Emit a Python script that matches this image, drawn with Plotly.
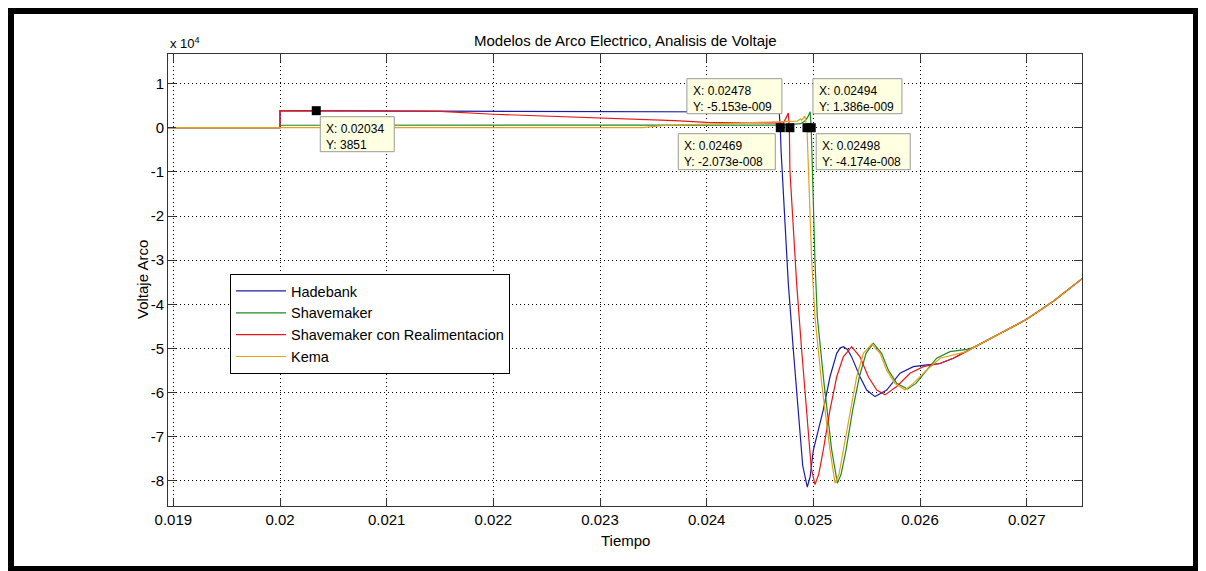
import plotly.graph_objects as go

# ---------------- data (time in s, voltage in V) ----------------
hadebank_t = [0.01895, 0.02, 0.02, 0.0215, 0.0225, 0.0236, 0.0240, 0.02466, 0.02468, 0.02469,
              0.024697, 0.024734, 0.024765, 0.024812, 0.024859, 0.0249, 0.024943, 0.02497, 0.025,
              0.025093, 0.025156, 0.025219, 0.02525, 0.025281, 0.02532, 0.025359, 0.025437, 0.0255,
              0.025578, 0.025688, 0.025812, 0.025937, 0.026062, 0.026187, 0.026312, 0.026437,
              0.0265, 0.02675, 0.027, 0.02725, 0.02752]
hadebank_v = [0, 0, 3850, 3800, 3750, 3650, 3600, 3550, 3500, 0,
              -5050, -20150, -35200, -50300, -65400, -76500, -81400, -79000, -73000,
              -63900, -56400, -51100, -49900, -49600, -50200, -51900, -56400, -59400,
              -60900, -59400, -55600, -54100, -53700, -53400, -52200, -50700,
              -49800, -46600, -43400, -39300, -34200]

shavemaker_t = [0.01895, 0.02, 0.02, 0.0230, 0.0247, 0.02488, 0.02492, 0.02495, 0.02497, 0.02498,
                0.02499, 0.025015, 0.025037, 0.0251, 0.025172, 0.025225, 0.02526, 0.025306,
                0.025369, 0.025431, 0.025494, 0.025562, 0.02564, 0.025703, 0.025781, 0.025881,
                0.025962, 0.026062, 0.026156, 0.026281, 0.026437, 0.0265, 0.02675, 0.027,
                0.02725, 0.02752]
shavemaker_v = [0, 0, 550, 550, 600, 900, 1500, 2500, 3600, 0,
                -9600, -30000, -42800, -57900, -73000, -80500, -78500, -73000,
                -63900, -56400, -51100, -48800, -51100, -54900, -57900, -59200,
                -57900, -54900, -52200, -50700, -50200, -49800, -46600, -43400,
                -39300, -34200]

realim_t = [0.01895, 0.02, 0.02, 0.02145, 0.0215, 0.0220, 0.0225, 0.0229, 0.0233, 0.0237, 0.0240,
            0.0244, 0.02472, 0.024765, 0.024775, 0.02478, 0.024806, 0.024843, 0.02489, 0.024937,
            0.02498, 0.025015, 0.02505, 0.025093, 0.025156, 0.025219, 0.025281, 0.025359,
            0.025437, 0.025515, 0.025594, 0.025672, 0.025781, 0.025906, 0.026031, 0.026187,
            0.026312, 0.026437, 0.0265, 0.02675, 0.027, 0.02725, 0.02752]
realim_v = [0, 0, 3851, 3851, 3700, 3050, 2650, 2300, 1950, 1600, 1200,
            1100, 1050, 3300, 0, -9600, -20150, -35200, -50300, -65400,
            -77000, -80800, -78500, -73000, -63900, -56400, -51900, -49600,
            -51900, -56400, -59400, -60500, -58600, -55600, -54100, -53400,
            -52200, -50700, -49800, -46600, -43400, -39300, -34200]

kema_t = [0.01895, 0.0234, 0.0236, 0.0240, 0.0245, 0.02485, 0.02488, 0.02489, 0.02492, 0.02494,
          0.024955, 0.024984, 0.025015, 0.025078, 0.025156, 0.025203, 0.02524, 0.025281,
          0.025343, 0.025406, 0.025469, 0.025547, 0.025625, 0.025687, 0.025765, 0.025859,
          0.025937, 0.026062, 0.026187, 0.026312, 0.026437, 0.0265, 0.02675, 0.027,
          0.02725, 0.02752]
kema_v = [0, 0, 500, 800, 1100, 1500, 2000, 1700, 2600, 0,
          -10000, -30000, -42800, -57900, -73000, -80500, -78500, -73000,
          -63900, -56400, -51100, -49000, -51100, -54900, -57900, -59400,
          -57900, -54900, -52200, -51500, -50700, -49800, -46600, -43400,
          -39300, -34200]

series_names = ["Hadebank", "Shavemaker", "Shavemaker con Realimentacion", "Kema"]

# data tips
tip_x = [0.02034, 0.02478, 0.02494, 0.02469, 0.02498]
tip_y = [3851, -5.153e-09, 1.386e-09, -2.073e-08, -4.174e-08]
tip_xlabel = ["0.02034", "0.02478", "0.02494", "0.02469", "0.02498"]
tip_ylabel = ["3851", "-5.153e-009", "1.386e-009", "-2.073e-008", "-4.174e-008"]

x_ticks = [0.019, 0.020, 0.021, 0.022, 0.023, 0.024, 0.025, 0.026, 0.027]
x_ticklabels = ["0.019", "0.02", "0.021", "0.022", "0.023", "0.024", "0.025", "0.026", "0.027"]
y_ticks = [-80000, -70000, -60000, -50000, -40000, -30000, -20000, -10000, 0, 10000]
y_ticklabels = ["-8", "-7", "-6", "-5", "-4", "-3", "-2", "-1", "0", "1"]

# ---------------- layout geometry ----------------
# the page body has an 8px default margin, so the figure is shifted by OFF
OFF = 8
W, H = 1206 - OFF, 571 - OFF
ML, MT = 168 - OFF, 54 - OFF
PW, PH = 914, 452
MR = W - ML - PW
MB = H - MT - PH


def px_x(p):
    """absolute screen pixel x -> paper x"""
    return (p - OFF - ML) / PW


def px_y(p):
    """absolute screen pixel y -> paper y"""
    return (H - MB - (p - OFF)) / PH


FONT = "Arial, 'Liberation Sans', sans-serif"
colors = ["#1c1ca8", "#1f8a1f", "#e81818", "#e6a019"]

fig = go.Figure()
for name, t, v, c in zip(series_names,
                         [hadebank_t, shavemaker_t, realim_t, kema_t],
                         [hadebank_v, shavemaker_v, realim_v, kema_v],
                         colors):
    fig.add_trace(go.Scatter(x=t, y=v, mode="lines", name=name,
                             line=dict(color=c, width=1.2)))

fig.add_trace(go.Scatter(x=tip_x, y=tip_y, mode="markers", showlegend=False,
                         marker=dict(symbol="square", size=9, color="black")))

grid_dash = "1px,3px"
axis_common = dict(showgrid=True, gridcolor="black", gridwidth=1, griddash=grid_dash,
                   zeroline=False, showline=True, linecolor="#333333", linewidth=1,
                   mirror="ticks", ticks="inside", ticklen=8, tickcolor="#333333",
                   tickfont=dict(size=15, color="black"))
fig.update_layout(
    width=W, height=H,
    margin=dict(l=ML, r=MR, t=MT, b=MB, pad=0),
    paper_bgcolor="white", plot_bgcolor="white",
    font=dict(family=FONT, size=15, color="black"),
    showlegend=True,
    legend=dict(x=px_x(230), y=px_y(274), xanchor="left", yanchor="top",
                bgcolor="white", bordercolor="black", borderwidth=1,
                font=dict(size=14.5, color="black"), itemwidth=50,
                tracegroupgap=0),
    xaxis=dict(range=[0.01895, 0.0275184], tickvals=x_ticks, ticktext=x_ticklabels,
               **axis_common),
    yaxis=dict(range=[-85666, 16689], tickvals=y_ticks, ticktext=y_ticklabels,
               **axis_common),
)

annotations = [
    dict(text="Modelos de Arco Electrico, Analisis de Voltaje", xref="paper", yref="paper",
         x=0.5, y=1, xanchor="center", yanchor="bottom", yshift=3, showarrow=False,
         font=dict(size=15)),
    dict(text="x 10<sup>4</sup>", xref="paper", yref="paper", x=0, y=1,
         xanchor="left", yanchor="bottom", yshift=1, showarrow=False, font=dict(size=13)),
    dict(text="Tiempo", xref="paper", yref="paper", x=0.5, y=px_y(540),
         xanchor="center", yanchor="middle", showarrow=False, font=dict(size=15)),
    dict(text="Voltaje Arco", xref="paper", yref="paper", x=px_x(142), y=0.5,
         xanchor="center", yanchor="middle", textangle=-90, showarrow=False,
         font=dict(size=15)),
]

shapes = []
# data-tip boxes: pixel offsets (left, right, top, bottom) from the tip point, y measured downward
tip_boxes = [(4, 78, 6, 41), (-103, -8, -49, -14), (6, 95, -49, -14),
             (-102, -5, 6, 42), (5, 99, 6, 42)]
for tx, ty, xl, yl, (bl, br, bt, bb) in zip(tip_x, tip_y, tip_xlabel, tip_ylabel, tip_boxes):
    shapes.append(dict(type="rect", xref="x", yref="y", xsizemode="pixel", ysizemode="pixel",
                       xanchor=tx, yanchor=ty, x0=bl, x1=br, y0=-bb, y1=-bt,
                       fillcolor="#ffffe1", line=dict(color="#9a9a9a", width=1),
                       layer="above"))
    annotations.append(dict(text=f"X: {xl}<br>Y: {yl}", xref="x", yref="y", x=tx, y=ty,
                            xanchor="left", yanchor="top", xshift=bl + 5, yshift=-(bt + 4),
                            showarrow=False, align="left", borderpad=0,
                            font=dict(size=12, color="black")))

# black picture frame (absolute pixels)
frame = [(6, 6, 14, 571), (6, 6, 1200, 14), (1193, 6, 1200, 571), (6, 566, 1200, 571)]
for x0, y0, x1, y1 in frame:
    shapes.append(dict(type="rect", xref="paper", yref="paper",
                       x0=px_x(x0), x1=px_x(x1), y0=px_y(y1), y1=px_y(y0),
                       fillcolor="black", line=dict(width=0)))

fig.update_layout(annotations=annotations, shapes=shapes)

fig.write_html("out.html")
